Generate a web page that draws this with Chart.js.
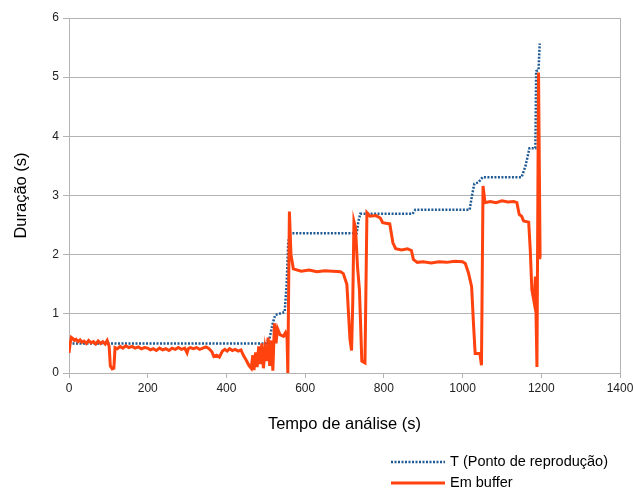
<!DOCTYPE html>
<html>
<head>
<meta charset="utf-8">
<script src="https://cdn.jsdelivr.net/npm/chart.js@4.4.1/dist/chart.umd.min.js"></script>
<style>
  html, body { margin: 0; padding: 0; background: #fff; }
  #wrap { width: 633px; height: 489px; position: relative; }
</style>
</head>
<body>
<div id="wrap"><canvas id="chart"></canvas></div>
<script>
// T (ponto de reproducao) - tempo / duracao
var tempoT = [0, 500, 510, 518, 524, 548, 553, 557, 561, 731, 735, 740, 873, 880, 1018, 1024, 1030, 1040, 1051, 1150, 1160, 1170, 1185, 1187, 1193, 1196];
var valorT = [0.5, 0.5, 0.6, 0.85, 0.98, 1.03, 1.5, 2.2, 2.36, 2.36, 2.55, 2.69, 2.69, 2.76, 2.76, 3.0, 3.2, 3.22, 3.31, 3.31, 3.5, 3.8, 3.8, 5.1, 5.12, 5.57];

// Em buffer
var tempoBuf = [0, 3, 6, 10, 14, 18, 23, 28, 33, 38, 44, 50, 56, 62, 68, 74, 80, 86, 92, 97,
  102, 105, 110, 114, 117, 123, 130, 137, 144, 152, 160, 168, 176, 184, 192, 200, 207, 214, 222, 230,
  238, 246, 254, 262, 270, 278, 286, 294, 300, 303, 308, 316, 324, 332, 340, 348, 356, 363, 368, 375,
  382, 390, 396, 402, 408, 415, 422, 430, 437, 443, 450, 457, 463, 467, 470, 474, 478, 482, 486, 490,
  494, 498, 502, 506, 510, 514, 518, 522, 526, 530, 536, 545, 550, 554, 556, 560, 564, 570, 590, 610,
  630, 650, 670, 690, 697, 706, 714, 718, 721, 724, 728, 733, 738, 744, 752, 757, 765, 780, 791, 797,
  815, 823, 830, 845, 860, 870, 875, 885, 900, 920, 940, 960, 980, 1000, 1007, 1015, 1023, 1028, 1032, 1044,
  1048, 1052, 1057, 1070, 1085, 1100, 1115, 1130, 1138, 1144, 1150, 1155, 1168, 1172, 1176, 1182, 1185, 1189, 1193, 1197,
  1200];
var valorBuf = [0.34, 0.5, 0.6, 0.58, 0.55, 0.57, 0.53, 0.56, 0.52, 0.54, 0.5, 0.55, 0.51, 0.53, 0.49, 0.54, 0.5, 0.53, 0.49, 0.55,
  0.45, 0.12, 0.07, 0.08, 0.43, 0.41, 0.45, 0.42, 0.46, 0.43, 0.45, 0.42, 0.44, 0.41, 0.43, 0.42, 0.39, 0.41, 0.38, 0.42,
  0.39, 0.41, 0.38, 0.42, 0.4, 0.43, 0.4, 0.42, 0.34, 0.41, 0.43, 0.41, 0.43, 0.4, 0.42, 0.44, 0.41, 0.36, 0.28, 0.3,
  0.27, 0.37, 0.4, 0.37, 0.41, 0.38, 0.4, 0.37, 0.39, 0.3, 0.22, 0.13, 0.08, 0.3, 0.05, 0.35, 0.1, 0.45, 0.15, 0.5,
  0.08, 0.4, 0.2, 0.6, 0.12, 0.55, 0.04, 0.84, 0.5, 0.75, 0.65, 0.62, 0.68, 0.6, 0.0, 2.73, 2.0, 1.76, 1.72, 1.74,
  1.71, 1.73, 1.72, 1.71, 1.68, 1.5, 0.56, 0.38, 1.2, 2.56, 2.45, 1.8, 1.4, 0.2, 0.17, 2.71, 2.65, 2.66, 2.62, 2.54,
  2.52, 2.2, 2.1, 2.08, 2.1, 2.07, 1.92, 1.87, 1.88, 1.86, 1.88, 1.87, 1.89, 1.88, 1.85, 1.69, 1.46, 0.8, 0.33, 0.33,
  0.13, 3.16, 2.88, 2.9, 2.88, 2.91, 2.89, 2.9, 2.88, 2.68, 2.65, 2.57, 2.55, 2.08, 1.41, 1.19, 1.63, 0.1, 5.08, 1.95,
  1.95];

var xTicks = [0, 200, 400, 600, 800, 1000, 1200, 1400];
var yTicks = [0, 1, 2, 3, 4, 5, 6];

var fonte = "'Liberation Sans', Arial, sans-serif";
var cinza = '#b3b3b3';

function pontos(xs, ys) {
  return xs.map(function(x, i) { return { x: x, y: ys[i] }; });
}

// legenda desenhada a mao, uma linha por serie
var legendaPlugin = {
  id: 'legenda',
  afterDraw: function(chart) {
    var ctx = chart.ctx;
    var linhas = [462, 483];
    ctx.save();
    chart.data.datasets.forEach(function(ds, i) {
      var y = linhas[i];
      ctx.beginPath();
      ctx.strokeStyle = ds.borderColor;
      ctx.lineWidth = ds.borderWidth;
      ctx.setLineDash(ds.borderDash || []);
      ctx.moveTo(391, y);
      ctx.lineTo(445, y);
      ctx.stroke();
      ctx.setLineDash([]);
      ctx.fillStyle = '#000';
      ctx.font = '14.5px ' + fonte;
      ctx.textBaseline = 'middle';
      ctx.textAlign = 'left';
      ctx.fillText(ds.label, 450, y);
    });
    ctx.restore();
  }
};

new Chart(document.getElementById('chart'), {
  type: 'line',
  data: {
    datasets: [{
      label: 'T (Ponto de reprodução)',
      data: pontos(tempoT, valorT),
      borderColor: '#1f5a94',
      borderWidth: 2.5,
      borderDash: [2, 1.5],
      borderCapStyle: 'butt',
      pointRadius: 0,
      tension: 0,
      order: 1
    }, {
      label: 'Em buffer',
      data: pontos(tempoBuf, valorBuf),
      borderColor: '#ff420e',
      borderWidth: 3,
      pointRadius: 0,
      tension: 0,
      order: 0
    }]
  },
  options: {
    responsive: true,
    maintainAspectRatio: false,
    animation: false,
    layout: { padding: { top: 18, right: 13, bottom: 50, left: 0 } },
    plugins: {
      legend: { display: false },
      tooltip: { enabled: false }
    },
    scales: {
      x: {
        type: 'linear',
        min: 0,
        max: 1400,
        afterBuildTicks: function(scale) {
          scale.ticks = xTicks.map(function(v) { return { value: v }; });
        },
        afterFit: function(scale) {
          scale.height = 66;
          // o rotulo 1400 pode passar da area, como no original
          scale.paddingRight = 0;
          scale.paddingLeft = 0;
        },
        grid: {
          color: function(c) { return (c.tick && c.tick.value === 1400) ? cinza : 'rgba(0,0,0,0)'; },
          tickColor: cinza,
          tickLength: 5
        },
        border: { color: cinza },
        ticks: {
          color: '#222',
          font: { family: fonte, size: 12 },
          padding: 3,
          maxRotation: 0,
          callback: function(v) { return String(v); }
        },
        title: {
          display: true,
          text: 'Tempo de análise (s)',
          color: '#000',
          font: { family: fonte, size: 16.5 },
          padding: { top: 0, bottom: 5 }
        }
      },
      y: {
        min: 0,
        max: 6,
        afterBuildTicks: function(scale) {
          scale.ticks = yTicks.map(function(v) { return { value: v }; });
        },
        afterFit: function(scale) { scale.width = 69; },
        grid: { color: cinza, tickLength: 6 },
        border: { color: cinza },
        ticks: { color: '#222', font: { family: fonte, size: 12 }, padding: 4 },
        title: {
          display: true,
          text: 'Duração (s)',
          color: '#000',
          font: { family: fonte, size: 16.5 },
          padding: { top: 12, bottom: 0 }
        }
      }
    }
  },
  plugins: [legendaPlugin]
});
</script>
</body>
</html>
